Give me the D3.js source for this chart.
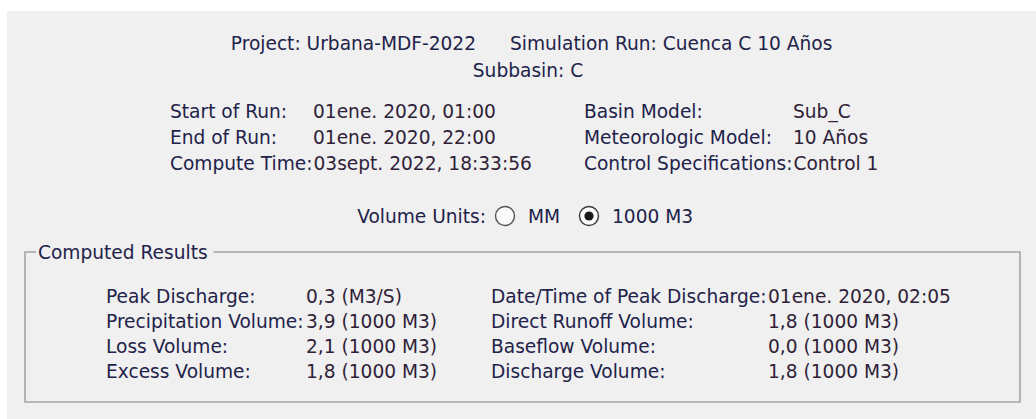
<!DOCTYPE html>
<html>
<head>
<meta charset="utf-8">
<script src="https://cdn.jsdelivr.net/npm/d3@7"></script>
<style>
  html, body { margin: 0; padding: 0; background: #fff; }
  svg { display: block; }
  text { font-family: "DejaVu Sans", sans-serif; font-size: 18.6px; fill: #22224a; }
  text.val { fill: #2f1f38; }
</style>
</head>
<body>
<script>
// --- summary data ---
const headerItems = ['Project: Urbana-MDF-2022', 'Simulation Run: Cuenca C 10 Años'];
const subTitle = 'Subbasin: C';

const runLabels = ['Start of Run:', 'End of Run:', 'Compute Time:'];
const runValues = ['01ene. 2020, 01:00', '01ene. 2020, 22:00', '03sept. 2022, 18:33:56'];
const modelLabels = ['Basin Model:', 'Meteorologic Model:', 'Control Specifications:'];
const modelValues = ['Sub_C', '10 Años', 'Control 1'];

const unitOptions = ['MM', '1000 M3'];
const unitSelected = '1000 M3';

const resultLabelsLeft = ['Peak Discharge:', 'Precipitation Volume:', 'Loss Volume:', 'Excess Volume:'];
const resultValuesLeft = [0.3, 3.9, 2.1, 1.8];
const resultUnitsLeft = ['M3/S', '1000 M3', '1000 M3', '1000 M3'];
const resultLabelsRight = ['Date/Time of Peak Discharge:', 'Direct Runoff Volume:', 'Baseflow Volume:', 'Discharge Volume:'];
const resultValuesRight = ['01ene. 2020, 02:05', 1.8, 0.0, 1.8];
const resultUnitsRight = [null, '1000 M3', '1000 M3', '1000 M3'];

const WIDTH = 1036;
const HEIGHT = 419;

const locale = d3.formatLocale({ decimal: ',', thousands: '.', grouping: [3], currency: ['', ''] });
const fmt = locale.format('.1f');

const svg = d3.select('body')
  .append('svg')
  .attr('width', WIDTH)
  .attr('height', HEIGHT);

// dialog panel
svg.append('rect')
  .attr('x', 7).attr('y', 11)
  .attr('width', WIDTH - 7).attr('height', HEIGHT - 11)
  .attr('fill', '#f0f0f0');

// header lines
svg.append('text')
  .attr('x', 476).attr('y', 43).attr('dy', '0.35em')
  .attr('text-anchor', 'end')
  .text(headerItems[0]);
svg.append('text')
  .attr('x', 510).attr('y', 43).attr('dy', '0.35em')
  .text(headerItems[1]);
svg.append('text')
  .attr('x', 528).attr('y', 70).attr('dy', '0.35em')
  .attr('text-anchor', 'middle')
  .text(subTitle);

// label/value column helper: value sits at valueX unless the label runs past it
function column(labels, values, y, labelX, valueX) {
  const g = svg.append('g');
  labels.forEach((lab, i) => {
    const t = g.append('text')
      .attr('x', labelX).attr('y', y(i)).attr('dy', '0.35em')
      .text(lab);
    const end = labelX + t.node().getComputedTextLength();
    g.append('text')
      .classed('val', true)
      .attr('x', Math.max(valueX, end + 1)).attr('y', y(i)).attr('dy', '0.35em')
      .text(values[i]);
  });
}

const yRun = d3.scalePoint().domain(d3.range(runLabels.length)).range([111, 163]);
column(runLabels, runValues, yRun, 170, 313);
column(modelLabels, modelValues, yRun, 584, 793);

// volume units radio row
const yUnits = 216;
const unitX = d3.scaleOrdinal().domain(unitOptions).range([505, 589]);
svg.append('text')
  .attr('x', 486).attr('y', yUnits).attr('dy', '0.35em')
  .attr('text-anchor', 'end')
  .text('Volume Units:');
const radio = svg.selectAll('g.radio')
  .data(unitOptions)
  .enter().append('g')
    .classed('radio', true)
    .attr('transform', d => `translate(${unitX(d)}, ${yUnits})`);
radio.append('circle')
  .attr('r', 9.5)
  .attr('fill', '#fbfbfb')
  .attr('stroke', d => d === unitSelected ? '#3a3a3a' : '#555')
  .attr('stroke-width', 1.4);
radio.filter(d => d === unitSelected)
  .append('circle')
  .attr('r', 4.6)
  .attr('fill', '#1a1a1a');
radio.append('text')
  .attr('x', 23).attr('dy', '0.35em')
  .text(d => d);

// computed results group box
const box = { x0: 25, x1: 1020, y0: 252, y1: 402 };
const legend = svg.append('text')
  .attr('x', 38).attr('y', box.y0).attr('dy', '0.35em')
  .text('Computed Results');
const legendEnd = 38 + legend.node().getComputedTextLength();
const frame = d3.path();
frame.moveTo(36, box.y0);
frame.lineTo(box.x0, box.y0);
frame.lineTo(box.x0, box.y1);
frame.lineTo(box.x1, box.y1);
frame.lineTo(box.x1, box.y0);
frame.lineTo(legendEnd + 6, box.y0);
svg.append('path')
  .attr('d', frame.toString())
  .attr('fill', 'none')
  .attr('stroke', '#a3a3a3')
  .attr('stroke-width', 1.6);

const yRes = d3.scalePoint().domain(d3.range(resultLabelsLeft.length)).range([296, 371]);
const valText = (v, u) => typeof v === 'number' ? `${fmt(v)} (${u})` : v;
column(resultLabelsLeft, resultValuesLeft.map((v, i) => valText(v, resultUnitsLeft[i])), yRes, 106, 306);
column(resultLabelsRight, resultValuesRight.map((v, i) => valText(v, resultUnitsRight[i])), yRes, 491, 768);
</script>
</body>
</html>
